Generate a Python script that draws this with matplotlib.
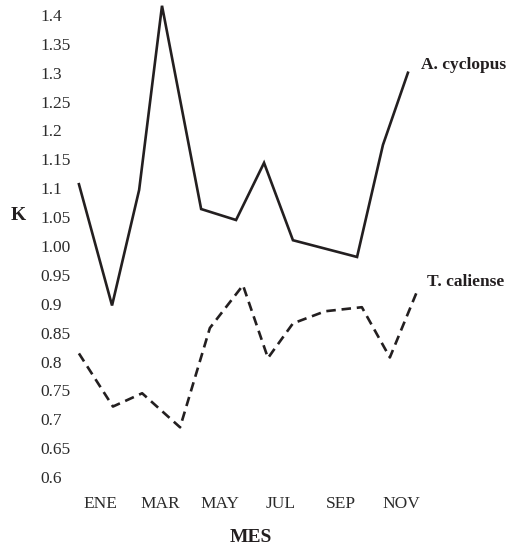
import matplotlib
matplotlib.use("Agg")
import matplotlib.pyplot as plt

# Month tick labels (every other month), positions in month units (ENE = 0)
month_ticks = [0, 2, 4, 6, 8, 10]
month_labels = ["ENE", "MAR", "MAY", "JUL", "SEP", "NOV"]

# A. cyclopus (sampling time in months, condition factor K)
cyc_t = [-0.70, 0.40, 1.30, 2.06, 3.36, 4.52, 5.45, 6.41, 8.54, 9.40, 10.23]
cyc_k = [1.107, 0.897, 1.097, 1.416, 1.064, 1.045, 1.144, 1.010, 0.981, 1.175, 1.300]

# T. caliense
cal_t = [-0.70, 0.43, 1.40, 2.66, 3.65, 4.75, 5.58, 6.41, 7.48, 8.70, 9.63, 10.53]
cal_k = [0.814, 0.722, 0.745, 0.686, 0.858, 0.932, 0.806, 0.866, 0.887, 0.894, 0.807, 0.921]

y_ticks = [1.4, 1.35, 1.3, 1.25, 1.2, 1.15, 1.1, 1.05, 1.00, 0.95, 0.9, 0.85,
           0.8, 0.75, 0.7, 0.65, 0.6]
y_labels = ["1.4", "1.35", "1.3", "1.25", "1.2", "1.15", "1.1", "1.05", "1.00",
            "0.95", "0.9", "0.85", "0.8", "0.75", "0.7", "0.65", "0.6"]

W, H = 508, 550
plt.rcParams['font.family'] = ['Liberation Serif', 'DejaVu Serif']
col = '#231f20'
txt = '#2b2b2b'

fig = plt.figure(figsize=(W / 100, H / 100), dpi=100)
px_per_month = 30.1
x0_px = 100.0
xmin, xmax = -1.0, 11.5
left_px = x0_px + xmin * px_per_month
width_px = (xmax - xmin) * px_per_month
top_px, bot_px = 15.0, 477.0
ax = fig.add_axes([left_px / W, 1 - bot_px / H, width_px / W, (bot_px - top_px) / H])
ax.set_xlim(xmin, xmax)
ax.set_ylim(0.6, 1.4)

ax.plot(cyc_t, cyc_k, color=col, lw=1.9, solid_joinstyle='miter', clip_on=False)
ax.plot(cal_t, cal_k, color=col, lw=1.9, linestyle=(0, (3.6, 2.2)), clip_on=False)

for s in ax.spines.values():
    s.set_visible(False)

ax.set_yticks(y_ticks)
ax.set_yticklabels(y_labels, fontsize=12.5, color=txt)
ax.tick_params(axis='y', length=0, pad=(left_px - 40) * 0.72)
for t in ax.get_yticklabels():
    t.set_horizontalalignment('left')

ax.set_xticks(month_ticks)
ax.set_xticklabels(month_labels, fontsize=12.5, color=txt)
ax.tick_params(axis='x', length=0, pad=14)

fig.text(18 / W, 1 - 216 / H, "K", fontsize=14, fontweight='bold', color=col,
         ha='center', va='center')
fig.text(251 / W, 1 - 538 / H, "MES", fontsize=14, fontweight='bold', color=col,
         ha='center', va='center')
fig.text(421 / W, 1 - 65 / H, "A. cyclopus", fontsize=12.5, fontweight='bold',
         color=col, ha='left', va='center')
fig.text(427 / W, 1 - 282 / H, "T. caliense", fontsize=12.5, fontweight='bold',
         color=col, ha='left', va='center')

fig.savefig("out.png", dpi=100)
